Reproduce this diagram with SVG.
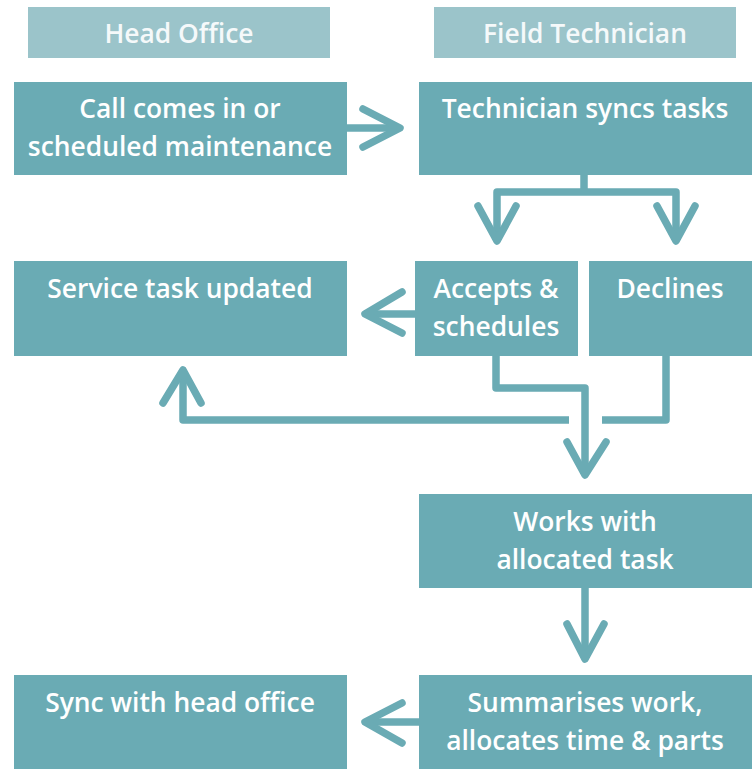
<svg xmlns="http://www.w3.org/2000/svg" width="754" height="769" viewBox="0 0 754 769">
<style>
.hdr{fill:#9BC4CA}
.box{fill:#6AABB4}
text{font-family:"Open Sans","Noto Sans",sans-serif;font-size:26.4px;font-weight:600;fill:#FFFFFF;text-anchor:middle}
.ht{fill:#F5F9FA}
.c{fill:none;stroke:#6AABB4;stroke-width:7.5;stroke-linejoin:round}
.a{fill:none;stroke:#6AABB4;stroke-width:7.5;stroke-linecap:round;stroke-linejoin:round}
</style>
<rect width="754" height="769" fill="#FFFFFF"/>
<g id="header-head-office"><rect class="hdr" x="28" y="7" width="302" height="51"/><text class="ht" x="179" y="43">Head Office</text></g>
<g id="header-field-technician"><rect class="hdr" x="434" y="7" width="302" height="51"/><text class="ht" x="585" y="43">Field Technician</text></g>
<g id="call"><rect class="box" x="14" y="82" width="333" height="93"/><text x="180" y="118">Call comes in or</text><text x="180" y="156">scheduled maintenance</text></g>
<g id="sync-tasks"><rect class="box" x="419" y="82" width="333" height="93"/><text x="585" y="118">Technician syncs tasks</text></g>
<g id="service-updated"><rect class="box" x="14" y="261" width="333" height="95"/><text x="180" y="298">Service task updated</text></g>
<g id="accepts"><rect class="box" x="415" y="261" width="163" height="95"/><text x="496" y="298">Accepts &amp;</text><text x="496" y="336">schedules</text></g>
<g id="declines"><rect class="box" x="589" y="261" width="163" height="95"/><text x="670" y="298">Declines</text></g>
<g id="works"><rect class="box" x="419" y="494" width="333" height="94"/><text x="585" y="531">Works with</text><text x="585" y="569">allocated task</text></g>
<g id="sync-head-office"><rect class="box" x="14" y="675" width="333" height="94"/><text x="180" y="712">Sync with head office</text></g>
<g id="summarises"><rect class="box" x="419" y="675" width="333" height="94"/><text x="585" y="712">Summarises work,</text><text x="585" y="750">allocates time &amp; parts</text></g>
<g id="connectors">
<path class="c" d="M347 128H398"/><path class="a" d="M363 109L400 128L363 147"/>
<path class="c" d="M584 175V192M497 239V192H676V239"/>
<path class="a" d="M478 206L497 241L516 206"/><path class="a" d="M657 206L676 241L695 206"/>
<path class="c" d="M415 314H367"/><path class="a" d="M402 292L365 314L402 333"/>
<path class="c" d="M496 356V388H585V474"/><path class="a" d="M567 442L585 475L606 442"/>
<path class="c" d="M666 356V420H602"/><path class="c" d="M569 420H183V371"/>
<path class="a" d="M163 403L183 370L201 403"/>
<path class="c" d="M585 588V658"/><path class="a" d="M567 624L585 659L604 624"/>
<path class="c" d="M419 722H367"/><path class="a" d="M402 703L365 722L402 743"/>
</g>
</svg>
